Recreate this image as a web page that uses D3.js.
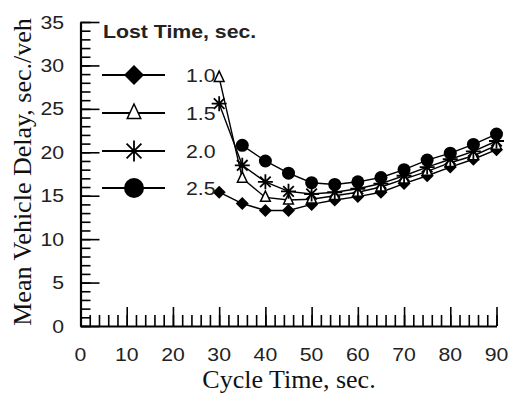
<!DOCTYPE html>
<html><head><meta charset="utf-8">
<script src="https://cdn.jsdelivr.net/npm/d3@7"></script>
<style>body{margin:0;background:#fff}svg{display:block}</style>
</head><body>
<svg id="c" width="508" height="396"></svg>
<script>
const cycleTimes = [30,35,40,45,50,55,60,65,70,75,80,85,90];
const lostTimes = ["1.0","1.5","2.0","2.5"];
const delay10 = [15.4,14.1,13.3,13.3,14.0,14.5,14.9,15.4,16.4,17.3,18.3,19.2,20.3];
const delay15 = [28.6,17.0,14.8,14.5,14.6,15.0,15.4,16.0,16.9,17.8,18.8,19.6,20.8];
const delay20 = [25.6,18.5,16.6,15.5,15.2,15.4,15.8,16.4,17.3,18.3,19.2,20.1,21.3];
const delay25 = [null,20.8,19.0,17.6,16.5,16.3,16.6,17.1,18.0,19.1,19.9,20.9,22.1];
const xTicks = [0,10,20,30,40,50,60,70,80,90];
const yTicks = [0,5,10,15,20,25,30,35];
const xTitle = "Cycle Time, sec.";
const yTitle = "Mean Vehicle Delay, sec./veh";
const legendTitle = "Lost Time, sec.";

const series = [
  {name: lostTimes[0], values: delay10, marker: "diamond"},
  {name: lostTimes[1], values: delay15, marker: "triangle"},
  {name: lostTimes[2], values: delay20, marker: "asterisk"},
  {name: lostTimes[3], values: delay25, marker: "circle"}
];

const svg = d3.select("#c");
const x = d3.scaleLinear().domain([0,90]).range([80.5,496.5]);
const y = d3.scaleLinear().domain([0,35]).range([326,22]);

// axes
const gy = svg.append("g").attr("transform",`translate(${x(0)},0)`);
gy.call(d3.axisRight(y).tickValues(d3.range(0,36,1)).tickSize(10).tickFormat(""));
gy.call(g=>g.selectAll(".domain").remove());
const gy2 = svg.append("g").attr("transform",`translate(${x(0)},0)`);
gy2.call(d3.axisRight(y).tickValues(yTicks).tickSize(19).tickFormat("").tickSizeOuter(0));
const gx = svg.append("g").attr("transform",`translate(0,${y(0)})`);
gx.call(d3.axisTop(x).tickValues(d3.range(0,91,2)).tickSize(11).tickFormat(""));
gx.call(g=>g.selectAll(".domain").remove());
const gx2 = svg.append("g").attr("transform",`translate(0,${y(0)})`);
gx2.call(d3.axisTop(x).tickValues(xTicks).tickSize(19).tickFormat("").tickSizeOuter(0));
svg.selectAll(".tick line").attr("stroke","#000").attr("stroke-width",1.6);
svg.selectAll(".domain").attr("stroke","#000").attr("stroke-width",2.2);

// tick labels
const sans = "'Liberation Sans', Arial, sans-serif";
svg.append("g").selectAll("text").data(yTicks).join("text")
  .attr("transform", d=>`translate(64,${y(d)+6.5}) scale(1.18,1)`)
  .attr("text-anchor","end").attr("font-family",sans).attr("font-size",18).attr("fill","#222")
  .text(d=>d);
svg.append("g").selectAll("text").data(xTicks).join("text")
  .attr("transform", d=>`translate(${x(d)},361) scale(1.18,1)`)
  .attr("text-anchor","middle").attr("font-family",sans).attr("font-size",18).attr("fill","#222")
  .text(d=>d);

// titles
const serif = "'Liberation Serif', 'Times New Roman', serif";
svg.append("text").attr("x",289).attr("y",388).attr("text-anchor","middle")
  .attr("font-family",serif).attr("font-size",26).attr("fill","#111").text(xTitle);
svg.append("text").attr("transform","translate(31,172) rotate(-90)").attr("text-anchor","middle")
  .attr("font-family",serif).attr("font-size",26).attr("fill","#111").text(yTitle);

// marker drawing
function drawMarker(g, type, cx, cy, s) {
  if (type === "diamond") {
    g.append("path").attr("d",`M${cx},${cy-s}L${cx+s},${cy}L${cx},${cy+s}L${cx-s},${cy}Z`).attr("fill","#000");
  } else if (type === "circle") {
    g.append("circle").attr("cx",cx).attr("cy",cy).attr("r",s).attr("fill","#000");
  } else if (type === "triangle") {
    const h = s*1.0;
    g.append("path").attr("d",`M${cx},${cy-h}L${cx+s*0.75},${cy+h*0.6}L${cx-s*0.75},${cy+h*0.6}Z`)
      .attr("fill","#fff").attr("stroke","#000").attr("stroke-width",1.5);
  } else if (type === "asterisk") {
    const p = [];
    for (let k=0;k<4;k++){ const a = k*Math.PI/4; p.push(`M${cx-s*Math.sin(a)},${cy-s*Math.cos(a)}L${cx+s*Math.sin(a)},${cy+s*Math.cos(a)}`); }
    g.append("path").attr("d",p.join("")).attr("stroke","#000").attr("stroke-width",1.8).attr("fill","none");
  }
}
const markerSize = {diamond:6.5, circle:6.5, triangle:6.5, asterisk:7.5};

// lines
const line = d3.line().defined(d=>d[1]!=null).x(d=>x(d[0])).y(d=>y(d[1]));
series.forEach(s=>{
  const pts = cycleTimes.map((c,i)=>[c,s.values[i]]);
  svg.append("path").datum(pts).attr("d",line).attr("fill","none").attr("stroke","#000").attr("stroke-width",1.4);
});
series.forEach(s=>{
  const g = svg.append("g");
  cycleTimes.forEach((c,i)=>{ if (s.values[i]!=null) drawMarker(g, s.marker, x(c), y(s.values[i]), markerSize[s.marker]); });
});

// legend
svg.append("text").attr("transform","translate(103,38) scale(1.12,1)").attr("font-family",sans)
  .attr("font-weight","bold").attr("font-size",19).attr("fill","#222").text(legendTitle);
const legendY = [75,113,151,188];
const legendSize = {diamond:10, circle:10, triangle:9, asterisk:10.5};
series.forEach((s,i)=>{
  const g = svg.append("g");
  g.append("line").attr("x1",102).attr("x2",165).attr("y1",legendY[i]).attr("y2",legendY[i]).attr("stroke","#000").attr("stroke-width",2);
  drawMarker(g, s.marker, 134, legendY[i], legendSize[s.marker]);
  g.append("text").attr("transform",`translate(186,${legendY[i]+6.5}) scale(1.18,1)`).attr("font-family",sans)
    .attr("font-size",18).attr("fill","#222").text(s.name);
});
</script>
</body></html>
